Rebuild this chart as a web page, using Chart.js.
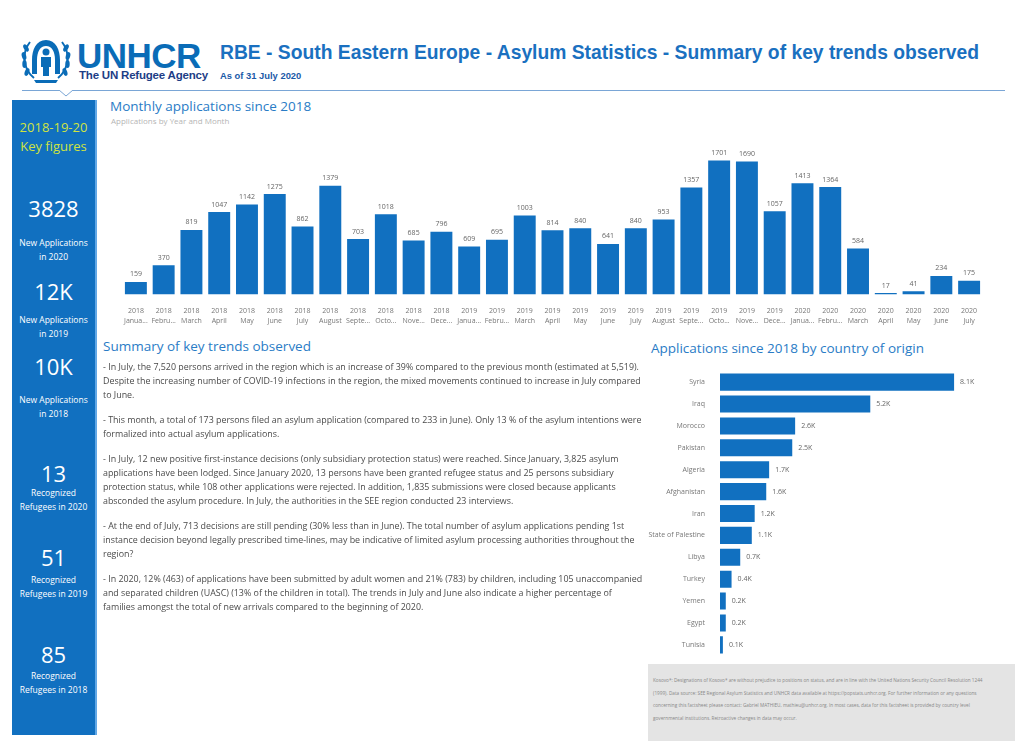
<!DOCTYPE html>
<html>
<head>
<meta charset="utf-8">
<script src="https://cdn.jsdelivr.net/npm/chart.js@4.4.1/dist/chart.umd.min.js"></script>
<style>
  html, body { margin: 0; padding: 0; background: #fff; }
  body { width: 1024px; height: 744px; position: relative; overflow: hidden; font-family: "Open Sans", "Noto Sans", sans-serif; }
  .abs { position: absolute; white-space: nowrap; }
  #logoText { left: 77px; top: 36px; font-family: "Liberation Sans", Arial, sans-serif; font-weight: bold; font-size: 35px; color: #0a6cb7; letter-spacing: -0.5px; }
  #logoSub { left: 79px; top: 69px; font-family: "Liberation Sans", Arial, sans-serif; font-size: 11.5px; color: #1d3d86; font-weight: bold; letter-spacing: -0.2px; }
  #title { left: 220px; top: 42px; font-family: "Liberation Sans", Arial, sans-serif; font-weight: bold; font-size: 19.3px; color: #1a70c0; }
  #asof { left: 220px; top: 70px; font-family: "Liberation Sans", Arial, sans-serif; font-weight: bold; font-size: 9.4px; color: #1a5aa8; }
  #rule { left: 22px; top: 90px; width: 983px; height: 1px; background: #7aa6d6; }
  #side { left: 12px; top: 100px; width: 83px; height: 635px; background: #1170c0; border-right: 2px solid #62a8e6; }
  .sideTxt { position: absolute; left: 0; width: 83px; text-align: center; color: #fff; line-height: 1.5; }
  .big { font-size: 22px; line-height: 1; }
  .small { font-size: 8.5px; line-height: 14px; }
  .sec { font-size: 13.5px; color: #2a7cc6; }
  .note { font-size: 8px; color: #b5b5b5; }
  #summary div.l { position: absolute; left: 0; font-size: 8.9px; color: #4a4a4a; white-space: nowrap; line-height: 12px; }
  #foot { left: 648px; top: 664px; width: 367px; height: 77px; background: #e4e4e4; }
  #foot div { position: absolute; left: 5px; font-size: 4.7px; color: #888; white-space: nowrap; line-height: 6px; }
</style>
</head>
<body>

<!-- header -->
<svg class="abs" style="left:20px;top:36px" width="52" height="48" viewBox="0 0 52 48">
  <g fill="none" stroke="#0a6cb7" stroke-width="2">
    <path d="M10 6 C2 16 2 32 14 42"/>
    <path d="M42 6 C50 16 50 32 38 42"/>
  </g>
  <g fill="#0a6cb7">
    <ellipse cx="6" cy="12" rx="2.2" ry="4" transform="rotate(-30 6 12)"/>
    <ellipse cx="4" cy="20" rx="2.2" ry="4" transform="rotate(-15 4 20)"/>
    <ellipse cx="4.5" cy="28" rx="2.2" ry="4"/>
    <ellipse cx="7" cy="36" rx="2.2" ry="4" transform="rotate(20 7 36)"/>
    <ellipse cx="46" cy="12" rx="2.2" ry="4" transform="rotate(30 46 12)"/>
    <ellipse cx="48" cy="20" rx="2.2" ry="4" transform="rotate(15 48 20)"/>
    <ellipse cx="47.5" cy="28" rx="2.2" ry="4"/>
    <ellipse cx="45" cy="36" rx="2.2" ry="4" transform="rotate(-20 45 36)"/>
    <path d="M26 4 C16 4 12 14 12 24 L12 38 L17 38 L17 24 C17 16 20 10 26 10 C32 10 35 16 35 24 L35 38 L40 38 L40 24 C40 14 36 4 26 4 Z"/>
    <circle cx="26" cy="16" r="3.5"/>
    <path d="M21 21 L31 21 L31 31 L29 31 L29 40 L23 40 L23 31 L21 31 Z"/>
    <path d="M14 44 L38 44 L36 47 L16 47 Z"/>
  </g>
</svg>
<div class="abs" id="logoText">UNHCR</div>
<div class="abs" id="logoSub">The UN Refugee Agency</div>
<div class="abs" id="title">RBE - South Eastern Europe - Asylum Statistics - Summary of key trends observed</div>
<div class="abs" id="asof">As of 31 July 2020</div>
<div class="abs" id="rule"></div>
<svg class="abs" style="left:58px;top:90px" width="16" height="8"><path d="M1 0 L8 6 L15 0" fill="#fff" stroke="#7aa6d6" stroke-width="1"/></svg>

<!-- sidebar -->
<div class="abs" id="side">
  <div class="sideTxt" style="top:18px;font-size:13px;line-height:19px;color:#cfe33f">2018-19-20<br>Key figures</div>
  <div class="sideTxt big" style="top:97px">3828</div>
  <div class="sideTxt small" style="top:136px">New Applications<br>in 2020</div>
  <div class="sideTxt big" style="top:180px">12K</div>
  <div class="sideTxt small" style="top:213px">New Applications<br>in 2019</div>
  <div class="sideTxt big" style="top:255px">10K</div>
  <div class="sideTxt small" style="top:293px">New Applications<br>in 2018</div>
  <div class="sideTxt big" style="top:362px">13</div>
  <div class="sideTxt small" style="top:386px">Recognized<br>Refugees in 2020</div>
  <div class="sideTxt big" style="top:446px">51</div>
  <div class="sideTxt small" style="top:473px">Recognized<br>Refugees in 2019</div>
  <div class="sideTxt big" style="top:543px">85</div>
  <div class="sideTxt small" style="top:569px">Recognized<br>Refugees in 2018</div>
</div>

<!-- monthly chart -->
<div class="abs sec" style="left:110px;top:97px">Monthly applications since 2018</div>
<div class="abs note" style="left:111px;top:115px">Applications by Year and Month</div>
<div class="abs" style="left:120px;top:137px;width:863px;height:193px"><canvas id="monthlyChart"></canvas></div>

<!-- summary text -->
<div class="abs sec" style="left:103px;top:337px">Summary of key trends observed</div>
<div class="abs" id="summary" style="left:103px;top:0;width:545px;height:744px"></div>

<!-- country chart -->
<div class="abs sec" style="left:651px;top:339px">Applications since 2018 by country of origin</div>
<div class="abs" style="left:645px;top:360px;width:364px;height:307px"><canvas id="countryChart"></canvas></div>

<!-- footnote -->
<div class="abs" id="foot"></div>

<script>
// Monthly applications (Jan 2018 - Jul 2020)
const years = ['2018', '2018', '2018', '2018', '2018', '2018', '2018', '2018', '2018', '2018', '2018', '2018',
               '2019', '2019', '2019', '2019', '2019', '2019', '2019', '2019', '2019', '2019', '2019', '2019',
               '2020', '2020', '2020', '2020', '2020', '2020', '2020'];
const months = ['Janua...', 'Febru...', 'March', 'April', 'May', 'June', 'July', 'August', 'Septe...', 'Octo...', 'Nove...', 'Dece...',
                'Janua...', 'Febru...', 'March', 'April', 'May', 'June', 'July', 'August', 'Septe...', 'Octo...', 'Nove...', 'Dece...',
                'Janua...', 'Febru...', 'March', 'April', 'May', 'June', 'July'];
const monthlyApplications = [159, 370, 819, 1047, 1142, 1275, 862, 1379, 703, 1018, 685, 796,
                             609, 695, 1003, 814, 840, 641, 840, 953, 1357, 1701, 1690, 1057,
                             1413, 1364, 584, 17, 41, 234, 175];

// Applications since 2018 by country of origin
const countries = ['Syria', 'Iraq', 'Morocco', 'Pakistan', 'Algeria', 'Afghanistan', 'Iran',
                   'State of Palestine', 'Libya', 'Turkey', 'Yemen', 'Egypt', 'Tunisia'];
const countryApplications = [8100, 5200, 2600, 2500, 1700, 1600, 1200, 1100, 700, 400, 200, 200, 100];

// Summary paragraphs, one entry per printed line
const summaryParagraphs = [
    ['- In July, the 7,520 persons arrived in the region which is an increase of 39% compared to the previous month (estimated at 5,519).',
     'Despite the increasing number of COVID-19 infections in the region, the mixed movements continued to increase in July compared',
     'to June.'],
    ['- This month, a total of 173 persons filed an asylum application (compared to 233 in June). Only 13 % of the asylum intentions were',
     'formalized into actual asylum applications.'],
    ['- In July, 12 new positive first-instance decisions (only subsidiary protection status) were reached. Since January, 3,825 asylum',
     'applications have been lodged. Since January 2020, 13 persons have been granted refugee status and 25 persons subsidiary',
     'protection status, while 108 other applications were rejected. In addition, 1,835 submissions were closed because applicants',
     'absconded the asylum procedure. In July, the authorities in the SEE region conducted 23 interviews.'],
    ['- At the end of July, 713 decisions are still pending (30% less than in June). The total number of asylum applications pending 1st',
     'instance decision beyond legally prescribed time-lines, may be indicative of limited asylum processing authorities throughout the',
     'region?'],
    ['- In 2020, 12% (463) of applications have been submitted by adult women and 21% (783) by children, including 105 unaccompanied',
     'and separated children (UASC) (13% of the children in total). The trends in July and June also indicate a higher percentage of',
     'families amongst the total of new arrivals compared to the beginning of 2020.']
];

const footLines = [
    'Kosovo*: Designations of Kosovo* are without prejudice to positions on status, and are in line with the United Nations Security Council Resolution 1244',
    '(1999). Data source: SEE Regional Asylum Statistics and UNHCR data available at https://popstats.unhcr.org. For further information or any questions',
    'concerning this factsheet please contact: Gabriel MATHIEU, mathieu@unhcr.org. In most cases, data for this factsheet is provided by country level',
    'governmental institutions. Retroactive changes in data may occur.'
];

const barBlue = '#1170c0';

// Fill summary text
const summary = document.getElementById('summary');
let y = 361;
summaryParagraphs.forEach(lines => {
    lines.forEach(line => {
        const d = document.createElement('div');
        d.className = 'l';
        d.style.top = y + 'px';
        d.textContent = line;
        summary.appendChild(d);
        y += 14;
    });
    y += 11;
});

// Fill footnote
const foot = document.getElementById('foot');
footLines.forEach((line, i) => {
    const d = document.createElement('div');
    d.style.top = (13 + i * 12.5) + 'px';
    d.textContent = line;
    foot.appendChild(d);
});

// Small plugin that prints the value next to each bar
function makeValueLabels(format, gap) {
    return {
        id: 'valueLabels',
        afterDatasetsDraw(chart) {
            const ctx = chart.ctx;
            const meta = chart.getDatasetMeta(0);
            const values = chart.data.datasets[0].data;
            const horizontal = chart.options.indexAxis === 'y';
            ctx.save();
            ctx.font = '7px "Open Sans", sans-serif';
            ctx.fillStyle = '#666';
            meta.data.forEach((bar, i) => {
                const text = format(values[i]);
                if (horizontal) {
                    ctx.textAlign = 'left';
                    ctx.textBaseline = 'middle';
                    ctx.fillText(text, bar.x + gap, bar.y);
                } else {
                    ctx.textAlign = 'center';
                    ctx.textBaseline = 'bottom';
                    ctx.fillText(text, bar.x, bar.y - gap);
                }
            });
            ctx.restore();
        }
    };
}

// Monthly applications bar chart
new Chart(document.getElementById('monthlyChart'), {
    type: 'bar',
    data: {
        labels: years.map((yr, i) => [yr, months[i]]),
        datasets: [{
            data: monthlyApplications,
            backgroundColor: barBlue,
            barPercentage: 0.79,
            categoryPercentage: 1
        }]
    },
    options: {
        responsive: true,
        maintainAspectRatio: false,
        animation: false,
        layout: { padding: 0 },
        plugins: { legend: { display: false }, tooltip: { enabled: false } },
        scales: {
            x: {
                grid: { display: false },
                border: { display: false },
                ticks: {
                    color: '#777',
                    font: { size: 7, family: '"Open Sans", sans-serif', lineHeight: 1.4 },
                    maxRotation: 0,
                    autoSkip: false,
                    padding: 4
                }
            },
            y: { display: false, min: 0, max: 2000 }
        }
    },
    plugins: [makeValueLabels(v => String(v), 4)]
});

// Country of origin horizontal bar chart
new Chart(document.getElementById('countryChart'), {
    type: 'bar',
    data: {
        labels: countries,
        datasets: [{
            data: countryApplications,
            backgroundColor: barBlue,
            barPercentage: 0.78,
            categoryPercentage: 1
        }]
    },
    options: {
        indexAxis: 'y',
        responsive: true,
        maintainAspectRatio: false,
        animation: false,
        layout: { padding: 0 },
        plugins: { legend: { display: false }, tooltip: { enabled: false } },
        scales: {
            x: { display: false, min: 0, max: 10000 },
            y: {
                grid: { display: false },
                border: { display: false },
                afterFit(scale) { scale.width = 75; },
                ticks: {
                    color: '#777',
                    font: { size: 7, family: '"Open Sans", sans-serif' },
                    padding: 7
                }
            }
        }
    },
    plugins: [makeValueLabels(v => (v / 1000).toFixed(1) + 'K', 6)]
});
</script>
</body>
</html>
